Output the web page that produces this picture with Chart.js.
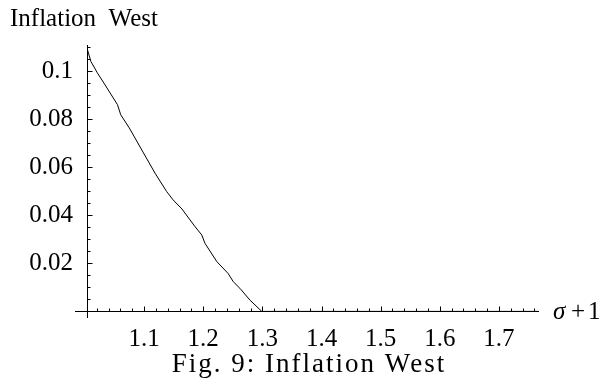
<!DOCTYPE html>
<html>
<head>
<meta charset="utf-8">
<title>Inflation West</title>
<script src="https://cdn.jsdelivr.net/npm/chart.js@4/dist/chart.umd.min.js"></script>
<style>
  html, body { margin: 0; padding: 0; background: #fff; }
  canvas { display: block; }
</style>
</head>
<body>
<canvas id="chart" width="603" height="385"></canvas>
<script>
// sigma + 1 (horizontal axis)
const sigmaPlusOne = [1.0035, 1.010, 1.021, 1.032, 1.055, 1.0605, 1.075, 1.099, 1.1185, 1.138, 1.149, 1.164,
  1.186, 1.1975, 1.203, 1.223, 1.242, 1.251, 1.262, 1.279, 1.299, 1.35, 1.45, 1.55, 1.65, 1.766];
// inflation in the West
const inflationWest = [0.1095, 0.1040, 0.0992, 0.0950, 0.0860, 0.0818, 0.0763, 0.0659, 0.0575, 0.0499, 0.0464, 0.0426,
  0.0353, 0.0318, 0.0283, 0.0207, 0.0158, 0.0123, 0.0096, 0.0047, 0.0, 0.0, 0.0, 0.0, 0.0, 0.0];

// labelled ticks
const xTickValues = [1.1, 1.2, 1.3, 1.4, 1.5, 1.6, 1.7];
const xTickLabels = ['1.1', '1.2', '1.3', '1.4', '1.5', '1.6', '1.7'];
const yTickValues = [0.02, 0.04, 0.06, 0.08, 0.1];
const yTickLabels = ['0.02', '0.04', '0.06', '0.08', '0.1'];

const titleText = 'Inflation  West';
const captionText = 'Fig. 9: Inflation West';

const SERIF = '"Liberation Serif", "Times New Roman", serif';
const X_AXIS_START = 0.9833;   // the horizontal axis line reaches a little left of the vertical one

// axis overhang plus small inward tick marks on both axes (major + minor)
const inwardTicks = {
  id: 'inwardTicks',
  afterDraw(chart) {
    const { ctx, chartArea, scales: { x, y } } = chart;
    const y0 = Math.round(y.getPixelForValue(0)) + 0.5;
    const xAxisPx = Math.round(chartArea.left) + 0.5;
    ctx.save();
    ctx.strokeStyle = '#000';
    ctx.lineWidth = 1;
    ctx.beginPath();
    ctx.moveTo(Math.round(x.getPixelForValue(X_AXIS_START)), y0);
    ctx.lineTo(xAxisPx, y0);
    // vertical axis: every 0.005, major every 0.02
    for (let i = 1; i <= 22; i++) {
      const v = i * 0.005;
      const major = i % 4 === 0;
      const py = Math.round(y.getPixelForValue(v)) + 0.5;
      ctx.moveTo(xAxisPx, py);
      ctx.lineTo(xAxisPx + (major ? 5 : 3), py);
    }
    // horizontal axis: every 0.02, major every 0.1
    for (let i = 1; i <= 38; i++) {
      const v = 1 + i * 0.02;
      const major = i % 5 === 0;
      const px = Math.round(x.getPixelForValue(v)) + 0.5;
      ctx.moveTo(px, y0);
      ctx.lineTo(px, y0 - (major ? 5 : 3));
    }
    ctx.stroke();
    ctx.restore();
  }
};

// title, axis symbol and caption
const extraText = {
  id: 'extraText',
  afterDraw(chart) {
    const { ctx, scales: { y } } = chart;
    const y0 = y.getPixelForValue(0);
    ctx.save();
    ctx.fillStyle = '#000';
    ctx.textBaseline = 'alphabetic';

    ctx.font = '25px ' + SERIF;
    ctx.textAlign = 'left';
    ctx.fillText(titleText, 10, 26);

    ctx.font = 'italic 25px ' + SERIF;
    ctx.fillText('σ', 553, y0 + 8);
    ctx.font = '25px ' + SERIF;
    if ('letterSpacing' in ctx) ctx.letterSpacing = '3px';
    ctx.fillText('+1', 571, y0 + 8);
    if ('letterSpacing' in ctx) ctx.letterSpacing = '0px';

    ctx.font = '27px ' + SERIF;
    ctx.textAlign = 'center';
    if ('letterSpacing' in ctx) ctx.letterSpacing = '2px';
    ctx.fillText(captionText, 309, 372);
    ctx.restore();
  }
};

new Chart(document.getElementById('chart'), {
  type: 'line',
  data: {
    datasets: [{
      data: sigmaPlusOne.map((s, i) => ({ x: s, y: inflationWest[i] })),
      borderColor: '#000',
      borderWidth: 1,
      pointRadius: 0,
      tension: 0,
      fill: false
    }]
  },
  options: {
    responsive: false,
    animation: false,
    layout: { padding: { left: 0, right: 65, top: 45, bottom: 68 } },
    plugins: { legend: { display: false }, tooltip: { enabled: false }, title: { display: false } },
    scales: {
      x: {
        type: 'linear',
        position: { y: 0 },
        min: 1.0035,
        max: 1.766,
        afterBuildTicks(scale) { scale.ticks = xTickValues.map(v => ({ value: v })); },
        ticks: {
          padding: 13,
          color: '#000',
          font: { family: SERIF, size: 25 },
          maxRotation: 0,
          autoSkip: false,
          callback(value) { const i = xTickValues.findIndex(t => Math.abs(t - value) < 1e-9); return i >= 0 ? xTickLabels[i] : ''; }
        },
        grid: { drawOnChartArea: false, drawTicks: false },
        border: { display: true, color: '#000', width: 1 }
      },
      y: {
        type: 'linear',
        position: 'left',
        min: -0.00233,
        max: 0.1108,
        afterFit(scale) { scale.width = 87; },
        afterBuildTicks(scale) { scale.ticks = yTickValues.map(v => ({ value: v })); },
        ticks: {
          padding: 14,
          color: '#000',
          font: { family: SERIF, size: 25 },
          autoSkip: false,
          callback(value) { const i = yTickValues.findIndex(t => Math.abs(t - value) < 1e-9); return i >= 0 ? yTickLabels[i] : ''; }
        },
        grid: { drawOnChartArea: false, drawTicks: false },
        border: { display: true, color: '#000', width: 1 }
      }
    }
  },
  plugins: [inwardTicks, extraText]
});
</script>
</body>
</html>
